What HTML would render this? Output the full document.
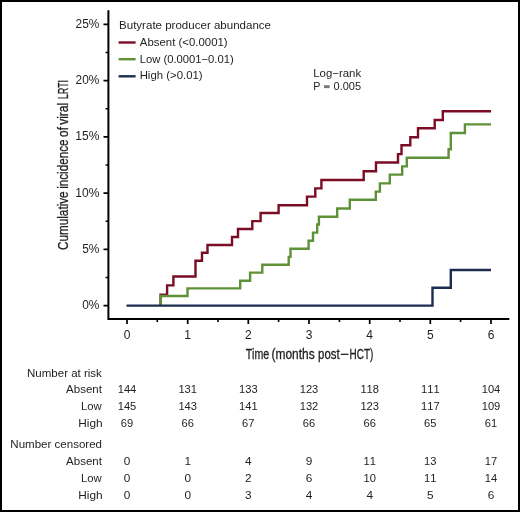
<!DOCTYPE html>
<html>
<head>
<meta charset="utf-8">
<style>
html,body{margin:0;padding:0;background:#000;}
body{width:520px;height:512px;overflow:hidden;}
svg{display:block;will-change:transform;}
text{font-family:"Liberation Sans",sans-serif;fill:#1e1e1e;font-kerning:none;}
</style>
</head>
<body>
<svg width="520" height="512" viewBox="0 0 520 512">
<rect x="0" y="0" width="520" height="512" fill="#000"/>
<rect x="2" y="2" width="516" height="508" fill="#fff"/>

<g stroke="#000" stroke-width="2" fill="none">
<path d="M108.4,10.2 V319 H509.3"/>
<path stroke-width="1.6" d="M103.5,24.4 H108.4 M103.5,80.6 H108.4 M103.5,136.9 H108.4 M103.5,193.1 H108.4 M103.5,249.4 H108.4 M103.5,305.6 H108.4"/>
<path stroke-width="1.6" d="M105.6,52.5 H108.4 M105.6,108.8 H108.4 M105.6,165.0 H108.4 M105.6,221.2 H108.4 M105.6,277.5 H108.4"/>
<path stroke-width="1.7" d="M127,319 V324 M187.7,319 V324 M248.3,319 V324 M309,319 V324 M369.7,319 V324 M430.3,319 V324 M491,319 V324"/>
<path stroke-width="1.6" d="M157.3,319 V322 M218.0,319 V322 M278.6,319 V322 M339.4,319 V322 M400.0,319 V322 M460.6,319 V322"/>
</g>
<text x="75.60" y="27.80" font-size="12" textLength="23.82" lengthAdjust="spacingAndGlyphs">25%</text>
<text x="75.60" y="84.06" font-size="12" textLength="23.82" lengthAdjust="spacingAndGlyphs">20%</text>
<text x="75.28" y="140.42" font-size="12" textLength="24.15" lengthAdjust="spacingAndGlyphs">15%</text>
<text x="75.28" y="196.68" font-size="12" textLength="24.15" lengthAdjust="spacingAndGlyphs">10%</text>
<text x="82.22" y="253.04" font-size="12" textLength="17.20" lengthAdjust="spacingAndGlyphs">5%</text>
<text x="82.24" y="309.30" font-size="12" textLength="17.19" lengthAdjust="spacingAndGlyphs">0%</text>
<text x="127.00" y="338.80" font-size="12" text-anchor="middle">0</text>
<text x="187.70" y="338.80" font-size="12" text-anchor="middle">1</text>
<text x="248.30" y="338.80" font-size="12" text-anchor="middle">2</text>
<text x="309.00" y="338.80" font-size="12" text-anchor="middle">3</text>
<text x="369.70" y="338.80" font-size="12" text-anchor="middle">4</text>
<text x="430.30" y="338.80" font-size="12" text-anchor="middle">5</text>
<text x="491.00" y="338.80" font-size="12" text-anchor="middle">6</text>
<g stroke="#1e1e1e" stroke-width="0.3">
<text x="245.66" y="358.50" font-size="14.2" textLength="23.51" lengthAdjust="spacingAndGlyphs">Time</text>
<text x="271.46" y="358.50" font-size="14.2" textLength="43.17" lengthAdjust="spacingAndGlyphs">(months</text>
<text x="318.06" y="358.50" font-size="14.2" textLength="21.62" lengthAdjust="spacingAndGlyphs">post</text>
<text x="340.06" y="358.50" font-size="14.2" textLength="8.77" lengthAdjust="spacingAndGlyphs">−</text>
<text x="349.58" y="358.50" font-size="14.2" textLength="23.73" lengthAdjust="spacingAndGlyphs">HCT)</text>
</g>
<g transform="translate(67.5,249.4) rotate(-90)" stroke="#1e1e1e" stroke-width="0.3">
<text x="-0.60" y="0.00" font-size="14.2" textLength="58.62" lengthAdjust="spacingAndGlyphs">Cumulative</text>
<text x="60.62" y="0.00" font-size="14.2" textLength="49.30" lengthAdjust="spacingAndGlyphs">incidence</text>
<text x="112.50" y="0.00" font-size="14.2" textLength="9.88" lengthAdjust="spacingAndGlyphs">of</text>
<text x="124.56" y="0.00" font-size="14.2" textLength="22.05" lengthAdjust="spacingAndGlyphs">viral</text>
<text x="150.49" y="0.00" font-size="14.2" textLength="18.81" lengthAdjust="spacingAndGlyphs">LRTI</text>
</g>
<g fill="none" stroke-width="2.4" stroke-linejoin="miter">
<path stroke="#7a0c24" d="M160.6,305.5 V294.8 H167.1 V285.4 H173.4 V276.5 H195.5 V260.8 H202 V252.8 H207.5 V245 H232 V237 H238 V229 H252.3 V221.1 H260.6 V213 H278.6 V205.3 H307 V196.6 H315.3 V188.4 H321.4 V180 H363.7 V171.2 H376 V162.5 H398 V154.1 H401.5 V145.2 H410.3 V137.3 H418 V128.2 H434.7 V120 H442.8 V111.2 H491"/>
<path stroke="#5f9138" d="M160.6,305.5 V296 H187.5 V288.4 H240.2 V280.8 H250.1 V272.6 H262.3 V264.8 H288.7 V256.9 H290.5 V248.7 H308.6 V240.7 H313 V232.6 H317.2 V224.5 H318.9 V216.7 H337.2 V208.5 H349.8 V199.8 H375.8 V191.6 H379.9 V183.4 H389.8 V174.6 H402.2 V166.4 H406.8 V157.8 H448.6 V149.2 H450.8 V133 H464.9 V124.4 H491"/>
<path stroke="#1c2d50" d="M126.5,305.6 H432.5 V287.8 H450.8 V270 H491"/>
</g>
<text x="119.05" y="29.30" font-size="11" textLength="151.96" lengthAdjust="spacingAndGlyphs">Butyrate producer abundance</text>
<text x="139.88" y="45.90" font-size="11" textLength="87.73" lengthAdjust="spacingAndGlyphs">Absent (&lt;0.0001)</text>
<text x="139.68" y="62.80" font-size="11" textLength="94.02" lengthAdjust="spacingAndGlyphs">Low (0.0001−0.01)</text>
<text x="139.67" y="79.40" font-size="11" textLength="62.94" lengthAdjust="spacingAndGlyphs">High (&gt;0.01)</text>
<g stroke-width="2.4">
<line x1="118.6" y1="42.5" x2="135.6" y2="42.5" stroke="#7a0c24"/>
<line x1="118.6" y1="59.2" x2="135.6" y2="59.2" stroke="#5f9138"/>
<line x1="118.6" y1="76.3" x2="135.6" y2="76.3" stroke="#1c2d50"/>
</g>
<text x="313.16" y="76.70" font-size="11" textLength="48.02" lengthAdjust="spacingAndGlyphs">Log−rank</text>
<text x="313.22" y="90.40" font-size="11" textLength="7.14" lengthAdjust="spacingAndGlyphs">P</text>
<rect x="324" y="85.2" width="5.7" height="2.9" fill="#7a7a7a"/>
<text x="333.57" y="90.40" font-size="11" textLength="27.49" lengthAdjust="spacingAndGlyphs">0.005</text>
<text x="27.06" y="376.50" font-size="11" textLength="74.83" lengthAdjust="spacingAndGlyphs">Number at risk</text>
<text x="10.30" y="448.20" font-size="11" textLength="91.74" lengthAdjust="spacingAndGlyphs">Number censored</text>
<text x="66.08" y="393.10" font-size="11" textLength="35.81" lengthAdjust="spacingAndGlyphs">Absent</text>
<text x="81.07" y="409.90" font-size="11" textLength="20.70" lengthAdjust="spacingAndGlyphs">Low</text>
<text x="78.23" y="426.90" font-size="11" textLength="24.34" lengthAdjust="spacingAndGlyphs">High</text>
<text x="66.08" y="464.90" font-size="11" textLength="35.81" lengthAdjust="spacingAndGlyphs">Absent</text>
<text x="81.07" y="481.80" font-size="11" textLength="20.70" lengthAdjust="spacingAndGlyphs">Low</text>
<text x="78.23" y="498.60" font-size="11" textLength="24.34" lengthAdjust="spacingAndGlyphs">High</text>
<text x="127.00" y="393.10" font-size="11.8" text-anchor="middle" textLength="18.60" lengthAdjust="spacingAndGlyphs">144</text>
<text x="187.70" y="393.10" font-size="11.8" text-anchor="middle" textLength="18.60" lengthAdjust="spacingAndGlyphs">131</text>
<text x="248.30" y="393.10" font-size="11.8" text-anchor="middle" textLength="18.60" lengthAdjust="spacingAndGlyphs">133</text>
<text x="309.00" y="393.10" font-size="11.8" text-anchor="middle" textLength="18.60" lengthAdjust="spacingAndGlyphs">123</text>
<text x="369.70" y="393.10" font-size="11.8" text-anchor="middle" textLength="18.60" lengthAdjust="spacingAndGlyphs">118</text>
<text x="430.30" y="393.10" font-size="11.8" text-anchor="middle" textLength="18.60" lengthAdjust="spacingAndGlyphs">111</text>
<text x="491.00" y="393.10" font-size="11.8" text-anchor="middle" textLength="18.60" lengthAdjust="spacingAndGlyphs">104</text>
<text x="127.00" y="409.90" font-size="11.8" text-anchor="middle" textLength="18.60" lengthAdjust="spacingAndGlyphs">145</text>
<text x="187.70" y="409.90" font-size="11.8" text-anchor="middle" textLength="18.60" lengthAdjust="spacingAndGlyphs">143</text>
<text x="248.30" y="409.90" font-size="11.8" text-anchor="middle" textLength="18.60" lengthAdjust="spacingAndGlyphs">141</text>
<text x="309.00" y="409.90" font-size="11.8" text-anchor="middle" textLength="18.60" lengthAdjust="spacingAndGlyphs">132</text>
<text x="369.70" y="409.90" font-size="11.8" text-anchor="middle" textLength="18.60" lengthAdjust="spacingAndGlyphs">123</text>
<text x="430.30" y="409.90" font-size="11.8" text-anchor="middle" textLength="18.60" lengthAdjust="spacingAndGlyphs">117</text>
<text x="491.00" y="409.90" font-size="11.8" text-anchor="middle" textLength="18.60" lengthAdjust="spacingAndGlyphs">109</text>
<text x="127.00" y="426.90" font-size="11.8" text-anchor="middle" textLength="12.40" lengthAdjust="spacingAndGlyphs">69</text>
<text x="187.70" y="426.90" font-size="11.8" text-anchor="middle" textLength="12.40" lengthAdjust="spacingAndGlyphs">66</text>
<text x="248.30" y="426.90" font-size="11.8" text-anchor="middle" textLength="12.40" lengthAdjust="spacingAndGlyphs">67</text>
<text x="309.00" y="426.90" font-size="11.8" text-anchor="middle" textLength="12.40" lengthAdjust="spacingAndGlyphs">66</text>
<text x="369.70" y="426.90" font-size="11.8" text-anchor="middle" textLength="12.40" lengthAdjust="spacingAndGlyphs">66</text>
<text x="430.30" y="426.90" font-size="11.8" text-anchor="middle" textLength="12.40" lengthAdjust="spacingAndGlyphs">65</text>
<text x="491.00" y="426.90" font-size="11.8" text-anchor="middle" textLength="12.40" lengthAdjust="spacingAndGlyphs">61</text>
<text x="127.00" y="464.90" font-size="11.8" text-anchor="middle">0</text>
<text x="187.70" y="464.90" font-size="11.8" text-anchor="middle">1</text>
<text x="248.30" y="464.90" font-size="11.8" text-anchor="middle">4</text>
<text x="309.00" y="464.90" font-size="11.8" text-anchor="middle">9</text>
<text x="369.70" y="464.90" font-size="11.8" text-anchor="middle" textLength="12.40" lengthAdjust="spacingAndGlyphs">11</text>
<text x="430.30" y="464.90" font-size="11.8" text-anchor="middle" textLength="12.40" lengthAdjust="spacingAndGlyphs">13</text>
<text x="491.00" y="464.90" font-size="11.8" text-anchor="middle" textLength="12.40" lengthAdjust="spacingAndGlyphs">17</text>
<text x="127.00" y="481.80" font-size="11.8" text-anchor="middle">0</text>
<text x="187.70" y="481.80" font-size="11.8" text-anchor="middle">0</text>
<text x="248.30" y="481.80" font-size="11.8" text-anchor="middle">2</text>
<text x="309.00" y="481.80" font-size="11.8" text-anchor="middle">6</text>
<text x="369.70" y="481.80" font-size="11.8" text-anchor="middle" textLength="12.40" lengthAdjust="spacingAndGlyphs">10</text>
<text x="430.30" y="481.80" font-size="11.8" text-anchor="middle" textLength="12.40" lengthAdjust="spacingAndGlyphs">11</text>
<text x="491.00" y="481.80" font-size="11.8" text-anchor="middle" textLength="12.40" lengthAdjust="spacingAndGlyphs">14</text>
<text x="127.00" y="498.60" font-size="11.8" text-anchor="middle">0</text>
<text x="187.70" y="498.60" font-size="11.8" text-anchor="middle">0</text>
<text x="248.30" y="498.60" font-size="11.8" text-anchor="middle">3</text>
<text x="309.00" y="498.60" font-size="11.8" text-anchor="middle">4</text>
<text x="369.70" y="498.60" font-size="11.8" text-anchor="middle">4</text>
<text x="430.30" y="498.60" font-size="11.8" text-anchor="middle">5</text>
<text x="491.00" y="498.60" font-size="11.8" text-anchor="middle">6</text>
</svg>
</body>
</html>
